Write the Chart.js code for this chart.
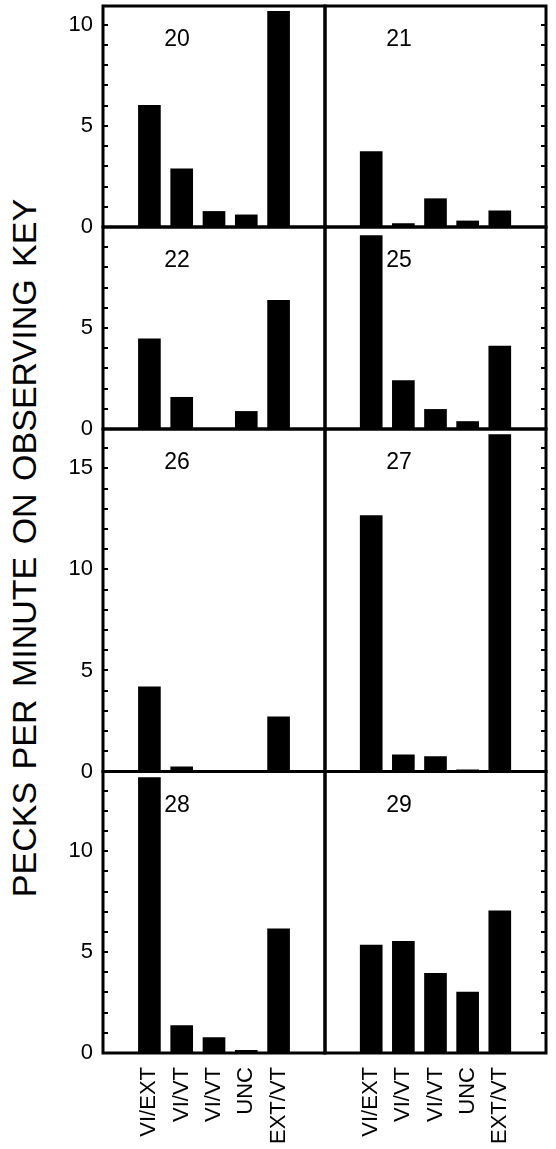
<!DOCTYPE html>
<html>
<head>
<meta charset="utf-8">
<title>Pecks per minute on observing key</title>
<script src="https://cdn.jsdelivr.net/npm/chart.js@4.4.1/dist/chart.umd.min.js"></script>
<style>
  html, body { margin: 0; padding: 0; background: #fff; }
  #wrap { position: relative; width: 556px; height: 1149px; overflow: hidden; }
  #wrap canvas { position: absolute; left: 0; top: 0; }
  #ytitle {
    position: absolute; left: 24px; top: 548px;
    transform: translate(-50%, -50%) rotate(-90deg);
    white-space: nowrap; color: #000;
    font: 34px "Liberation Sans", Arial, sans-serif;
    word-spacing: 3px;
  }
</style>
</head>
<body>
<div id="wrap">
  <div id="ytitle">PECKS PER MINUTE ON OBSERVING KEY</div>
</div>
<script>
// categories along the bottom of every panel
const categories = ['VI/EXT', 'VI/VT', 'VI/VT', 'UNC', 'EXT/VT'];

// one panel per bird, read left to right, top to bottom
const birds = ['20', '21', '22', '25', '26', '27', '28', '29'];
const pecks20 = [6.02, 2.88, 0.77, 0.60, 10.67];
const pecks21 = [3.73, 0.17, 1.40, 0.30, 0.80];
const pecks22 = [4.47, 1.57, 0, 0.87, 6.37];
const pecks25 = [9.57, 2.40, 0.97, 0.37, 4.10];
const pecks26 = [4.19, 0.23, 0, 0, 2.70];
const pecks27 = [12.66, 0.82, 0.74, 0.08, 16.68];
const pecks28 = [13.65, 1.36, 0.76, 0.13, 6.15];
const pecks29 = [5.35, 5.53, 3.95, 3.02, 7.04];
const allPecks = [pecks20, pecks21, pecks22, pecks25, pecks26, pecks27, pecks28, pecks29];

// y range and labelled ticks for each row of panels
const rowMax = [10.93, 10, 16.95, 13.95];
const rowTicks = [[0, 5, 10], [0, 5], [0, 5, 10, 15], [0, 5, 10]];

const W = 556, H = 1149;
const colX = [[103, 325], [325, 546]];
const rowY = [[6, 227], [227, 429], [429, 771.5], [771.5, 1053]];
const yAxisW = 50;
const xAxisH = 90;
const fontFamily = '"Liberation Sans", Arial, Helvetica, sans-serif';

// frame, inward minor ticks and the bird number
const panelFrame = {
  id: 'panelFrame',
  afterDatasetsDraw(chart, args, opts) {
    const { ctx, chartArea: a } = chart;
    const y = chart.scales.y;
    ctx.save();
    ctx.strokeStyle = '#000';
    ctx.lineWidth = 3;
    ctx.strokeRect(a.left, a.top, a.right - a.left, a.bottom - a.top);

    ctx.lineWidth = 2;
    const xEdge = opts.side === 'left' ? a.left : a.right;
    const dir = opts.side === 'left' ? 1 : -1;
    for (let v = 1; v < y.max; v++) {
      const py = Math.round(y.getPixelForValue(v));
      ctx.beginPath();
      ctx.moveTo(xEdge, py);
      ctx.lineTo(xEdge + dir * 5, py);
      ctx.stroke();
    }

    ctx.fillStyle = '#000';
    ctx.font = '23px ' + fontFamily;
    ctx.textAlign = 'center';
    ctx.textBaseline = 'middle';
    ctx.fillText(opts.name, a.left + 74, a.top + 34);
    ctx.restore();
  }
};

const wrap = document.getElementById('wrap');

birds.forEach((bird, i) => {
  const col = i % 2;
  const row = Math.floor(i / 2);
  const [L, R] = colX[col];
  const [T, B] = rowY[row];
  const showY = col === 0;
  const showX = row === rowY.length - 1;

  const canvas = document.createElement('canvas');
  canvas.width = W;
  canvas.height = H;
  canvas.style.width = W + 'px';
  canvas.style.height = H + 'px';
  wrap.appendChild(canvas);

  const xScale = {
    type: 'linear',
    min: -0.75,
    max: 4.75,
    display: showX,
    grid: { display: false, drawTicks: false },
    border: { display: false },
    afterBuildTicks: s => { s.ticks = categories.map((c, k) => ({ value: k })); },
    ticks: {
      autoSkip: false,
      minRotation: 90,
      maxRotation: 90,
      padding: 14,
      color: '#000',
      font: { family: fontFamily, size: 22 },
      callback: v => categories[v]
    }
  };
  if (showX) {
    xScale.afterFit = s => {
      s.height = xAxisH;
      s.paddingLeft = 0;
      s.paddingRight = 0;
    };
  }

  const yScale = {
    min: 0,
    max: rowMax[row],
    display: showY,
    grid: { display: false, drawTicks: false },
    border: { display: false },
    afterBuildTicks: s => { s.ticks = rowTicks[row].map(v => ({ value: v })); },
    ticks: {
      padding: 10,
      color: '#000',
      font: { family: fontFamily, size: 22 }
    }
  };
  if (showY) {
    // keep the label overhang from pushing the panel edges
    yScale.afterFit = s => {
      s.width = yAxisW;
      s.paddingTop = 0;
      s.paddingBottom = 0;
    };
  }

  new Chart(canvas, {
    type: 'bar',
    data: {
      datasets: [{
        data: allPecks[i].map((v, k) => ({ x: k, y: v })),
        backgroundColor: '#000',
        borderWidth: 0,
        barThickness: 22
      }]
    },
    options: {
      responsive: false,
      animation: false,
      devicePixelRatio: 1,
      layout: {
        padding: {
          left: showY ? L - yAxisW : L,
          top: T,
          right: W - R,
          bottom: showX ? H - B - xAxisH : H - B
        }
      },
      plugins: {
        legend: { display: false },
        tooltip: { enabled: false },
        panelFrame: { name: bird, side: col === 0 ? 'left' : 'right' }
      },
      scales: { x: xScale, y: yScale }
    },
    plugins: [panelFrame]
  });
});
</script>
</body>
</html>
